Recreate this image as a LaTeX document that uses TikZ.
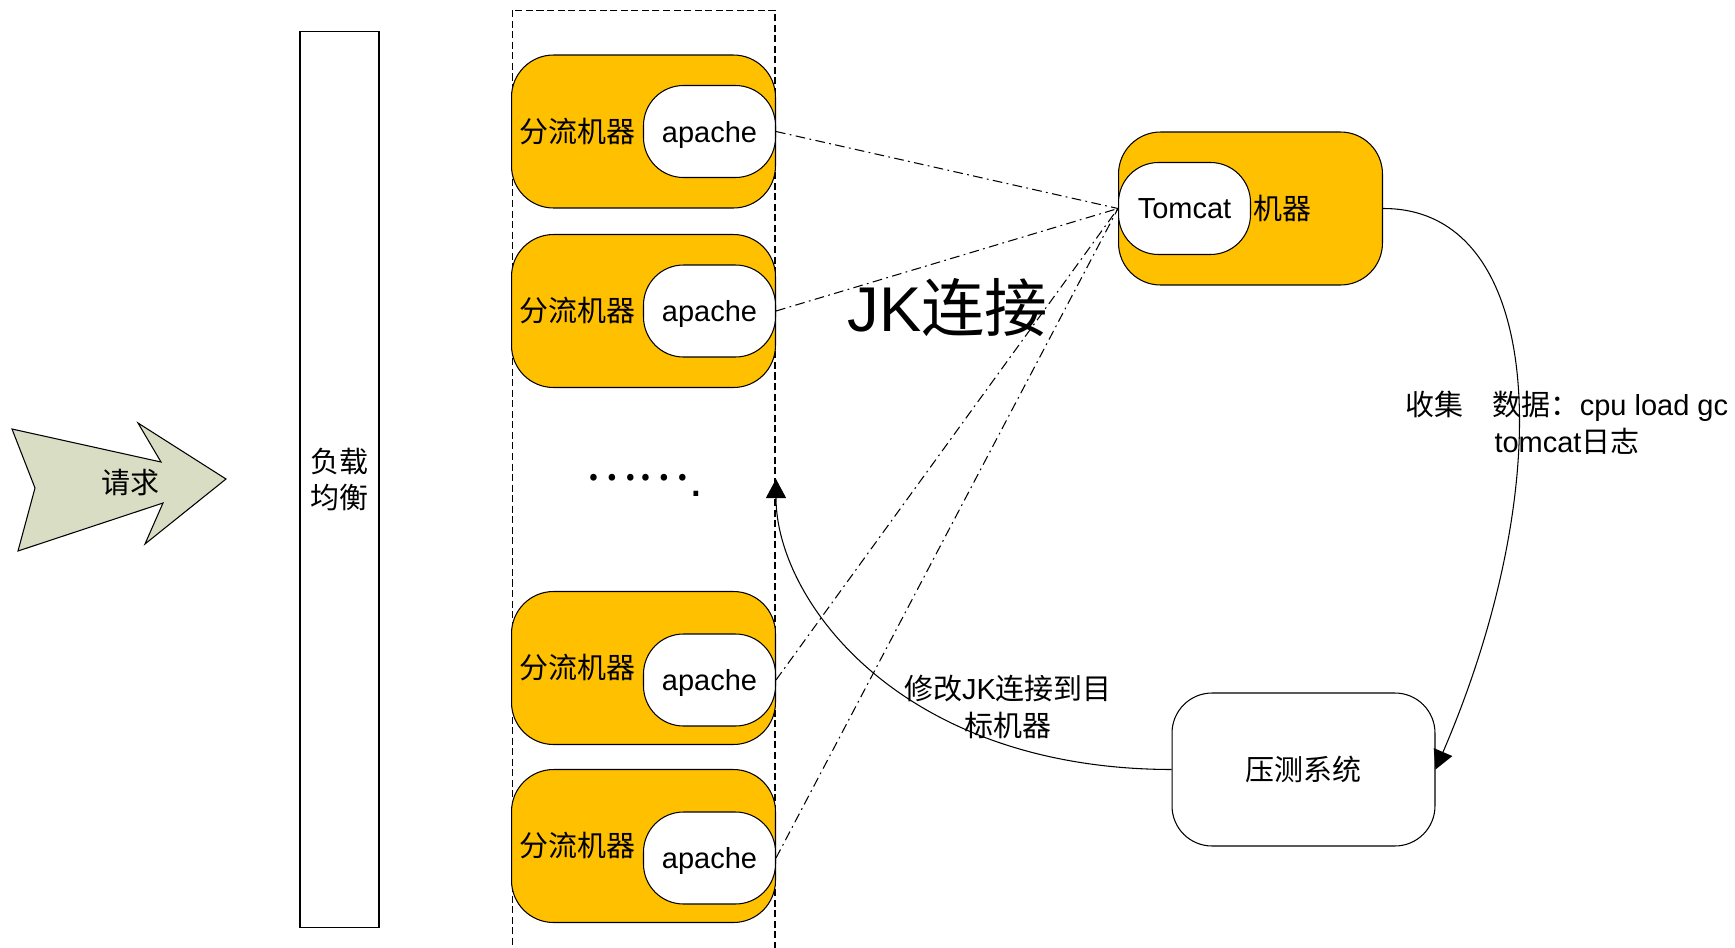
\documentclass[tikz,border=0pt]{standalone}
\usepackage{fontspec}
\setmainfont{Liberation Sans}
\newfontfamily\cjk{Noto Sans CJK SC}
\usepackage{tikz}
\usetikzlibrary{positioning}
\usetikzlibrary{arrows.meta}
\newcommand{\zh}[1]{{\cjk #1}}
\definecolor{boxgold}{RGB}{255,192,0}
\definecolor{arrowgreen}{RGB}{216,221,196}

\begin{document}
\begin{tikzpicture}[
            x=0.02cm, y=-0.02cm, line width=0.6pt,
            every node/.style={font=\fontsize{16.5}{21}\selectfont},
            machine/.style={draw=black, fill=boxgold, rounded corners=0.84cm, minimum width=5.28cm, minimum height=3.06cm, text width=4.96cm, inner xsep=0.16cm, align=left},
            pill/.style={draw=black, fill=white, rounded corners=0.8cm, minimum width=2.64cm, minimum height=1.84cm, inner sep=0pt, text depth=0pt},
            jk/.style={draw, dash pattern=on 5.5pt off 2.5pt on 1pt off 2.5pt},
            flow/.style={draw, -{Triangle[length=0.38cm,width=0.4cm]}}
        ]
            \useasboundingbox (0,0) rectangle (1735,947);
            % request
            \draw[fill=arrowgreen] (12,429) -- (161,462) -- (138,423) -- (226,479) -- (145,544) -- (163,503) -- (18,551) -- (35,488) -- cycle;
            \node (req) at (130,483) {\zh{请求}};
            \node [draw, minimum width=1.58cm, minimum height=17.94cm, align=center] (lb) at (339.5,479.5) {\zh{负载}\\\zh{均衡}};
            % apache machines
            \node [draw, dash pattern=on 4pt off 2pt, minimum width=5.26cm, minimum height=19cm] (pool) at (643.5,485) {};
            \node [machine] (m1) at (643.5,131.5) {\zh{分流机器}};
            \node [machine] (m2) at (643.5,311) {\zh{分流机器}};
            \node [machine] (m3) at (643.5,668) {\zh{分流机器}};
            \node [machine] (m4) at (643.5,846) {\zh{分流机器}};
            \node [pill, anchor=east] (a1) at (m1.east) {apache};
            \node [pill, anchor=east] (a2) at (m2.east) {apache};
            \node [pill, anchor=east] (a3) at ([yshift=-0.24cm]m3.east) {apache};
            \node [pill, anchor=east] (a4) at ([yshift=-0.24cm]m4.east) {apache};
            \node [anchor=base west, inner sep=0pt, font=\fontsize{28}{32}\selectfont] (dots) at (585,496) {\raisebox{0.32cm}{\zh{……}}.};
            % tomcat
            \node [machine] (tm) at (1250.5,208.5) {};
            \node [pill, anchor=west] (tc) at (tm.west) {Tomcat};
            \node [right=1pt of tc, inner sep=0pt] (tcname) {\zh{机器}};
            \node [draw, fill=white, rounded corners=0.8cm, minimum width=5.26cm, minimum height=3.06cm] (test) at (1303.5,769.5) {\zh{压测系统}};
            \node [font=\fontsize{36}{40}\selectfont] (jklabel) at (948,308) {JK\zh{连接}};
            \foreach \i in {1,...,4}
                \path[jk] (a\i.east) -- (tc.west);
            \path[flow] (tm.east) .. controls (1545,208) and (1560,480) .. (test.east);
            \node [align=center] (collect) at (1567,423) {\zh{收集　数据：}cpu load gc\\tomcat\zh{日志}};
            \coordinate (target) at (776,479);
            \path[flow] (test.west) .. controls (900,769) and (776,600) .. (target);
            \node [align=center] (switch) at (1008,707) {\zh{修改}JK\zh{连接到目}\\\zh{标机器}};
        \end{tikzpicture}
\end{document}
